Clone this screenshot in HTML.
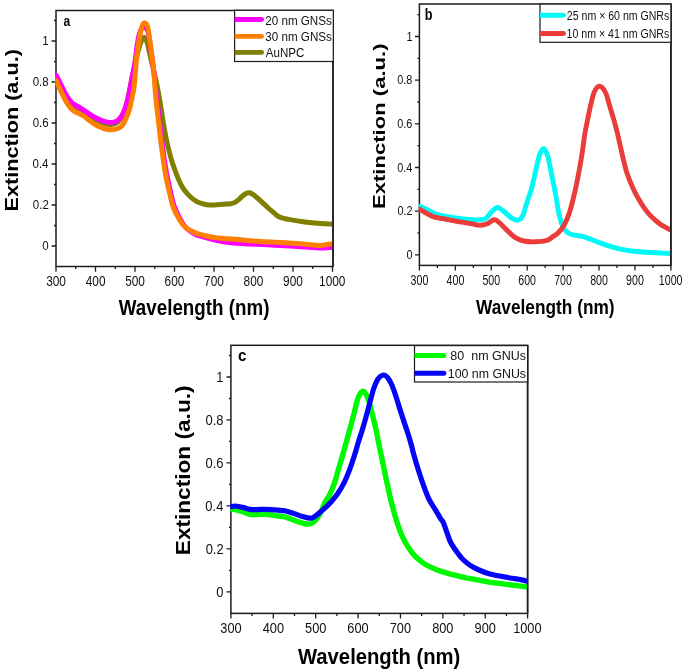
<!DOCTYPE html>
<html><head><meta charset="utf-8"><title>Extinction spectra</title>
<style>html,body{margin:0;padding:0;background:#fff;} svg{display:block;will-change:transform;}</style>
</head><body>
<svg width="685" height="671" viewBox="0 0 685 671">
<rect width="685" height="671" fill="#fff"/>
<g>
<path d="M56.00,266.50V271.70M75.75,266.50V269.10M95.50,266.50V271.70M115.25,266.50V269.10M135.00,266.50V271.70M154.75,266.50V269.10M174.50,266.50V271.70M194.25,266.50V269.10M214.00,266.50V271.70M233.75,266.50V269.10M253.50,266.50V271.70M273.25,266.50V269.10M293.00,266.50V271.70M312.75,266.50V269.10M332.50,266.50V271.70M56.00,246.00H51.60M56.00,225.50H54.00M56.00,205.00H51.60M56.00,184.50H54.00M56.00,164.00H51.60M56.00,143.50H54.00M56.00,123.00H51.60M56.00,102.50H54.00M56.00,82.00H51.60M56.00,61.50H54.00M56.00,41.00H51.60M56.00,20.50H54.00" stroke="#1c1c1c" stroke-width="1.3" fill="none"/>
<rect x="56.00" y="10.50" width="277.00" height="256.00" fill="none" stroke="#1c1c1c" stroke-width="1.5"/>
<path d="M419.40,265.40V270.60M437.36,265.40V268.00M455.33,265.40V270.60M473.29,265.40V268.00M491.26,265.40V270.60M509.22,265.40V268.00M527.19,265.40V270.60M545.15,265.40V268.00M563.12,265.40V270.60M581.09,265.40V268.00M599.05,265.40V270.60M617.01,265.40V268.00M634.98,265.40V270.60M652.94,265.40V268.00M670.91,265.40V270.60M419.40,254.80H415.00M419.40,232.97H417.40M419.40,211.14H415.00M419.40,189.31H417.40M419.40,167.48H415.00M419.40,145.65H417.40M419.40,123.82H415.00M419.40,101.99H417.40M419.40,80.16H415.00M419.40,58.33H417.40M419.40,36.50H415.00M419.40,14.67H417.40" stroke="#1c1c1c" stroke-width="1.3" fill="none"/>
<rect x="419.40" y="4.00" width="251.50" height="261.40" fill="none" stroke="#1c1c1c" stroke-width="1.5"/>
<path d="M230.90,613.40V618.60M252.09,613.40V616.00M273.29,613.40V618.60M294.49,613.40V616.00M315.68,613.40V618.60M336.88,613.40V616.00M358.07,613.40V618.60M379.26,613.40V616.00M400.46,613.40V618.60M421.65,613.40V616.00M442.85,613.40V618.60M464.05,613.40V616.00M485.24,613.40V618.60M506.44,613.40V616.00M527.63,613.40V618.60M230.90,591.80H226.50M230.90,570.32H228.90M230.90,548.84H226.50M230.90,527.36H228.90M230.90,505.88H226.50M230.90,484.40H228.90M230.90,462.92H226.50M230.90,441.44H228.90M230.90,419.96H226.50M230.90,398.48H228.90M230.90,377.00H226.50M230.90,355.52H228.90" stroke="#1c1c1c" stroke-width="1.3" fill="none"/>
<rect x="230.90" y="345.30" width="296.70" height="268.10" fill="none" stroke="#1c1c1c" stroke-width="1.5"/>
<defs>
<clipPath id="clipa"><rect x="55.20" y="10.50" width="277.20" height="256.00"/></clipPath>
<clipPath id="clipb"><rect x="418.60" y="4.00" width="251.70" height="261.40"/></clipPath>
<clipPath id="clipc"><rect x="230.10" y="345.30" width="296.90" height="268.10"/></clipPath>
</defs>
<path clip-path="url(#clipa)" d="M56.30,78.00 C57.12,79.67 59.60,84.75 61.20,88.00 C62.80,91.25 64.12,94.58 65.90,97.50 C67.68,100.42 69.72,103.50 71.90,105.50 C74.08,107.50 76.62,108.08 79.00,109.50 C81.38,110.92 83.42,112.28 86.20,114.00 C88.98,115.72 92.73,118.25 95.70,119.80 C98.67,121.35 101.42,122.53 104.00,123.30 C106.58,124.07 109.00,124.53 111.20,124.40 C113.40,124.27 115.38,123.82 117.20,122.50 C119.02,121.18 120.38,120.25 122.10,116.50 C123.82,112.75 125.85,106.42 127.50,100.00 C129.15,93.58 130.52,85.00 132.00,78.00 C133.48,71.00 134.97,63.83 136.40,58.00 C137.83,52.17 139.32,46.45 140.60,43.00 C141.88,39.55 143.03,37.47 144.10,37.30 C145.17,37.13 146.05,39.22 147.00,42.00 C147.95,44.78 148.88,50.00 149.80,54.00 C150.72,58.00 151.48,61.67 152.50,66.00 C153.52,70.33 155.00,76.00 155.90,80.00 C156.80,84.00 157.27,86.67 157.90,90.00 C158.53,93.33 159.13,96.67 159.70,100.00 C160.27,103.33 160.77,106.67 161.30,110.00 C161.83,113.33 162.35,116.67 162.90,120.00 C163.45,123.33 164.00,126.67 164.60,130.00 C165.20,133.33 165.80,136.67 166.50,140.00 C167.20,143.33 167.97,146.67 168.80,150.00 C169.63,153.33 170.48,156.67 171.50,160.00 C172.52,163.33 173.82,167.00 174.90,170.00 C175.98,173.00 176.87,175.33 178.00,178.00 C179.13,180.67 180.45,183.75 181.70,186.00 C182.95,188.25 184.15,189.80 185.50,191.50 C186.85,193.20 188.27,194.73 189.80,196.20 C191.33,197.67 193.08,199.20 194.70,200.30 C196.32,201.40 197.88,202.15 199.50,202.80 C201.12,203.45 202.78,203.83 204.40,204.20 C206.02,204.57 207.58,204.87 209.20,205.00 C210.82,205.13 211.47,205.15 214.10,205.00 C216.73,204.85 222.30,204.30 225.00,204.10 C227.70,203.90 228.70,204.05 230.30,203.80 C231.90,203.55 233.15,203.35 234.60,202.60 C236.05,201.85 237.53,200.52 239.00,199.30 C240.47,198.08 242.08,196.33 243.40,195.30 C244.72,194.27 245.88,193.53 246.90,193.10 C247.92,192.67 248.48,192.48 249.50,192.70 C250.52,192.92 251.68,193.52 253.00,194.40 C254.32,195.28 255.78,196.60 257.40,198.00 C259.02,199.40 260.80,201.05 262.70,202.80 C264.60,204.55 266.92,206.83 268.80,208.50 C270.68,210.17 272.55,211.57 274.00,212.80 C275.45,214.03 276.33,215.08 277.50,215.90 C278.67,216.72 279.42,217.18 281.00,217.70 C282.58,218.22 283.62,218.37 287.00,219.00 C290.38,219.63 296.20,220.78 301.30,221.50 C306.40,222.22 312.40,222.85 317.60,223.30 C322.80,223.75 330.02,224.05 332.50,224.20" fill="none" stroke="#808000" stroke-width="5.0" stroke-linecap="round" stroke-linejoin="round"/>
<path clip-path="url(#clipa)" d="M56.30,75.50 C57.12,77.08 59.60,81.82 61.20,85.00 C62.80,88.18 64.12,91.62 65.90,94.60 C67.68,97.58 69.72,100.82 71.90,102.90 C74.08,104.98 76.62,105.62 79.00,107.10 C81.38,108.58 83.42,110.02 86.20,111.80 C88.98,113.58 92.73,116.20 95.70,117.80 C98.67,119.40 101.42,120.60 104.00,121.40 C106.58,122.20 109.00,122.70 111.20,122.60 C113.40,122.50 115.57,121.73 117.20,120.80 C118.83,119.87 119.78,118.80 121.00,117.00 C122.22,115.20 123.40,112.83 124.50,110.00 C125.60,107.17 126.72,103.33 127.60,100.00 C128.48,96.67 129.13,93.33 129.80,90.00 C130.47,86.67 130.97,83.33 131.60,80.00 C132.23,76.67 132.98,73.33 133.60,70.00 C134.22,66.67 134.77,63.67 135.30,60.00 C135.83,56.33 136.18,52.17 136.80,48.00 C137.42,43.83 138.17,38.25 139.00,35.00 C139.83,31.75 140.87,29.75 141.80,28.50 C142.73,27.25 143.60,27.08 144.60,27.50 C145.60,27.92 146.95,28.58 147.80,31.00 C148.65,33.42 149.07,38.00 149.70,42.00 C150.33,46.00 151.02,51.00 151.60,55.00 C152.18,59.00 152.58,61.17 153.20,66.00 C153.82,70.83 154.78,79.17 155.30,84.00 C155.82,88.83 155.87,91.02 156.30,95.00 C156.73,98.98 157.28,102.78 157.90,107.90 C158.52,113.02 159.28,119.75 160.00,125.70 C160.72,131.65 161.43,137.65 162.20,143.60 C162.97,149.55 163.82,156.17 164.60,161.40 C165.38,166.63 166.17,171.07 166.90,175.00 C167.63,178.93 168.27,181.67 169.00,185.00 C169.73,188.33 170.50,191.67 171.30,195.00 C172.10,198.33 172.52,201.33 173.80,205.00 C175.08,208.67 177.17,213.45 179.00,217.00 C180.83,220.55 182.88,223.90 184.80,226.30 C186.72,228.70 188.80,230.08 190.50,231.40 C192.20,232.72 193.33,233.43 195.00,234.20 C196.67,234.97 197.32,235.07 200.50,236.00 C203.68,236.93 208.65,238.63 214.10,239.80 C219.55,240.97 223.08,242.10 233.20,243.00 C243.32,243.90 260.93,244.40 274.80,245.20 C288.67,246.00 308.53,247.33 316.40,247.80 C324.27,248.27 319.32,248.10 322.00,248.00 C324.68,247.90 330.75,247.33 332.50,247.20" fill="none" stroke="#FF00FF" stroke-width="5.0" stroke-linecap="round" stroke-linejoin="round"/>
<path clip-path="url(#clipa)" d="M56.30,80.50 C57.12,82.35 59.60,88.17 61.20,91.60 C62.80,95.03 64.12,98.12 65.90,101.10 C67.68,104.08 69.92,107.52 71.90,109.50 C73.88,111.48 75.82,111.92 77.80,113.00 C79.78,114.08 81.80,114.70 83.80,116.00 C85.80,117.30 87.82,119.30 89.80,120.80 C91.78,122.30 93.33,123.72 95.70,125.00 C98.07,126.28 101.42,127.72 104.00,128.50 C106.58,129.28 108.80,129.73 111.20,129.70 C113.60,129.67 116.52,129.08 118.40,128.30 C120.28,127.52 121.23,126.63 122.50,125.00 C123.77,123.37 124.83,121.17 126.00,118.50 C127.17,115.83 128.50,112.42 129.50,109.00 C130.50,105.58 131.30,101.27 132.00,98.00 C132.70,94.73 133.23,92.40 133.70,89.40 C134.17,86.40 134.48,83.23 134.80,80.00 C135.12,76.77 135.33,73.33 135.60,70.00 C135.87,66.67 136.03,63.52 136.40,60.00 C136.77,56.48 137.20,53.17 137.80,48.90 C138.40,44.63 139.23,38.35 140.00,34.40 C140.77,30.45 141.62,27.10 142.40,25.20 C143.18,23.30 143.85,22.78 144.70,23.00 C145.55,23.22 146.65,23.67 147.50,26.50 C148.35,29.33 149.12,35.47 149.80,40.00 C150.48,44.53 151.02,49.20 151.60,53.70 C152.18,58.20 152.82,62.62 153.30,67.00 C153.78,71.38 154.17,75.83 154.50,80.00 C154.83,84.17 154.90,87.35 155.30,92.00 C155.70,96.65 156.28,102.28 156.90,107.90 C157.52,113.52 158.30,119.75 159.00,125.70 C159.70,131.65 160.33,137.55 161.10,143.60 C161.87,149.65 162.85,156.77 163.60,162.00 C164.35,167.23 164.92,171.17 165.60,175.00 C166.28,178.83 166.97,181.67 167.70,185.00 C168.43,188.33 169.20,191.67 170.00,195.00 C170.80,198.33 171.67,202.25 172.50,205.00 C173.33,207.75 174.10,209.52 175.00,211.50 C175.90,213.48 176.93,215.18 177.90,216.90 C178.87,218.62 179.82,220.35 180.80,221.80 C181.78,223.25 182.85,224.53 183.80,225.60 C184.75,226.67 185.50,227.43 186.50,228.20 C187.50,228.97 188.43,229.47 189.80,230.20 C191.17,230.93 193.00,231.92 194.70,232.60 C196.40,233.28 198.38,233.82 200.00,234.30 C201.62,234.78 202.05,234.97 204.40,235.50 C206.75,236.03 210.87,237.00 214.10,237.50 C217.33,238.00 220.32,238.20 223.80,238.50 C227.28,238.80 228.80,238.78 235.00,239.30 C241.20,239.82 252.05,240.98 261.00,241.60 C269.95,242.22 279.47,242.40 288.70,243.00 C297.93,243.60 311.02,244.78 316.40,245.20 C321.78,245.62 318.32,245.77 321.00,245.50 C323.68,245.23 330.58,243.92 332.50,243.60" fill="none" stroke="#FF8000" stroke-width="5.0" stroke-linecap="round" stroke-linejoin="round"/>
<path clip-path="url(#clipb)" d="M419.60,206.20 C420.88,206.80 424.32,208.40 427.30,209.80 C430.28,211.20 434.10,213.47 437.50,214.60 C440.90,215.73 443.95,215.97 447.70,216.60 C451.45,217.23 455.92,217.87 460.00,218.40 C464.08,218.93 468.87,219.60 472.20,219.80 C475.53,220.00 477.73,219.83 480.00,219.60 C482.27,219.37 483.85,219.73 485.80,218.40 C487.75,217.07 489.75,213.42 491.70,211.60 C493.65,209.78 495.55,207.60 497.50,207.50 C499.45,207.40 501.20,209.35 503.40,211.00 C505.60,212.65 508.40,215.87 510.70,217.40 C513.00,218.93 515.48,220.02 517.20,220.20 C518.92,220.38 519.95,219.53 521.00,218.50 C522.05,217.47 522.75,215.92 523.50,214.00 C524.25,212.08 524.68,209.67 525.50,207.00 C526.32,204.33 527.42,200.97 528.40,198.00 C529.38,195.03 530.15,193.90 531.40,189.20 C532.65,184.50 534.53,175.52 535.90,169.80 C537.27,164.08 538.32,158.43 539.60,154.90 C540.88,151.37 542.23,148.35 543.60,148.60 C544.97,148.85 546.48,152.12 547.80,156.40 C549.12,160.68 550.22,168.03 551.50,174.30 C552.78,180.57 554.28,187.55 555.50,194.00 C556.72,200.45 557.65,207.75 558.80,213.00 C559.95,218.25 561.05,222.30 562.40,225.50 C563.75,228.70 564.90,230.58 566.90,232.20 C568.90,233.82 571.92,234.53 574.40,235.20 C576.88,235.87 579.08,235.52 581.80,236.20 C584.52,236.88 587.42,238.10 590.70,239.30 C593.98,240.50 597.92,242.13 601.50,243.40 C605.08,244.67 608.85,245.92 612.20,246.90 C615.55,247.88 618.02,248.58 621.60,249.30 C625.18,250.02 629.45,250.70 633.70,251.20 C637.95,251.70 642.63,252.00 647.10,252.30 C651.57,252.60 656.62,252.80 660.50,253.00 C664.38,253.20 668.75,253.42 670.40,253.50" fill="none" stroke="#00F8F6" stroke-width="4.9" stroke-linecap="round" stroke-linejoin="round"/>
<path clip-path="url(#clipb)" d="M419.60,209.30 C420.88,210.03 424.67,212.35 427.30,213.70 C429.93,215.05 432.33,216.48 435.40,217.40 C438.47,218.32 441.60,218.45 445.70,219.20 C449.80,219.95 455.58,221.12 460.00,221.90 C464.42,222.68 468.87,223.35 472.20,223.90 C475.53,224.45 477.48,225.22 480.00,225.20 C482.52,225.18 484.98,224.72 487.30,223.80 C489.62,222.88 491.95,219.95 493.90,219.70 C495.85,219.45 496.93,220.65 499.00,222.30 C501.07,223.95 503.63,227.08 506.30,229.60 C508.97,232.12 512.08,235.50 515.00,237.40 C517.92,239.30 520.38,240.27 523.80,241.00 C527.22,241.73 531.60,241.92 535.50,241.80 C539.40,241.68 544.45,241.07 547.20,240.30 C549.95,239.53 550.20,238.43 552.00,237.20 C553.80,235.97 556.02,234.85 558.00,232.90 C559.98,230.95 562.05,228.72 563.90,225.50 C565.75,222.28 567.60,217.83 569.10,213.60 C570.60,209.37 571.65,205.08 572.90,200.10 C574.15,195.12 575.37,189.65 576.60,183.70 C577.83,177.75 579.30,170.02 580.30,164.40 C581.30,158.78 581.85,155.03 582.60,150.00 C583.35,144.97 583.97,139.25 584.80,134.20 C585.63,129.15 586.67,124.35 587.60,119.70 C588.53,115.05 589.28,110.92 590.40,106.30 C591.52,101.68 592.80,95.35 594.30,92.00 C595.80,88.65 597.57,86.20 599.40,86.20 C601.23,86.20 603.57,88.65 605.30,92.00 C607.03,95.35 608.38,101.68 609.80,106.30 C611.22,110.92 612.50,115.08 613.80,119.70 C615.10,124.32 616.50,129.53 617.60,134.00 C618.70,138.47 619.45,142.32 620.40,146.50 C621.35,150.68 622.20,154.63 623.30,159.10 C624.40,163.57 625.55,168.82 627.00,173.30 C628.45,177.78 630.23,182.00 632.00,186.00 C633.77,190.00 635.48,193.53 637.60,197.30 C639.72,201.07 642.33,205.30 644.70,208.60 C647.07,211.90 649.20,214.50 651.80,217.10 C654.40,219.70 657.20,222.07 660.30,224.20 C663.40,226.33 668.72,228.95 670.40,229.90" fill="none" stroke="#EB3C3C" stroke-width="4.9" stroke-linecap="round" stroke-linejoin="round"/>
<path clip-path="url(#clipc)" d="M231.30,509.00 C231.97,509.08 233.42,509.08 235.30,509.50 C237.18,509.92 240.17,510.70 242.60,511.50 C245.03,512.30 247.47,513.80 249.90,514.30 C252.33,514.80 254.77,514.52 257.20,514.50 C259.63,514.48 262.07,514.12 264.50,514.20 C266.93,514.28 269.55,514.70 271.80,515.00 C274.05,515.30 275.83,515.68 278.00,516.00 C280.17,516.32 282.22,516.23 284.80,516.90 C287.38,517.57 290.58,518.98 293.50,520.00 C296.42,521.02 300.12,522.33 302.30,523.00 C304.48,523.67 305.15,523.92 306.60,524.00 C308.05,524.08 309.53,524.10 311.00,523.50 C312.47,522.90 313.93,521.93 315.40,520.40 C316.87,518.87 318.20,517.28 319.80,514.30 C321.40,511.32 323.33,505.80 325.00,502.50 C326.67,499.20 328.22,497.77 329.80,494.50 C331.38,491.23 333.02,487.22 334.50,482.90 C335.98,478.58 337.30,473.37 338.70,468.60 C340.10,463.83 341.58,458.90 342.90,454.30 C344.22,449.70 345.40,445.35 346.60,441.00 C347.80,436.65 348.87,432.77 350.10,428.20 C351.33,423.63 352.80,418.27 354.00,413.60 C355.20,408.93 356.28,403.50 357.30,400.20 C358.32,396.90 359.07,395.28 360.10,393.80 C361.13,392.32 362.38,390.98 363.50,391.30 C364.62,391.62 365.78,393.65 366.80,395.70 C367.82,397.75 368.67,400.43 369.60,403.60 C370.53,406.77 371.47,410.98 372.40,414.70 C373.33,418.42 374.52,423.02 375.20,425.90 C375.88,428.78 375.88,428.93 376.50,432.00 C377.12,435.07 378.00,439.87 378.90,444.30 C379.80,448.73 380.90,453.83 381.90,458.60 C382.90,463.37 383.90,468.15 384.90,472.90 C385.90,477.65 386.92,482.58 387.90,487.10 C388.88,491.62 389.78,495.85 390.80,500.00 C391.82,504.15 392.78,507.72 394.00,512.00 C395.22,516.28 396.68,521.55 398.10,525.70 C399.52,529.85 400.83,533.35 402.50,536.90 C404.17,540.45 406.05,543.83 408.10,547.00 C410.15,550.17 412.37,553.30 414.80,555.90 C417.23,558.50 420.08,560.73 422.70,562.60 C425.32,564.47 427.42,565.63 430.50,567.10 C433.58,568.57 437.55,570.17 441.20,571.40 C444.85,572.63 448.27,573.42 452.40,574.50 C456.53,575.58 461.92,577.02 466.00,577.90 C470.08,578.78 473.25,579.15 476.90,579.80 C480.55,580.45 484.25,581.20 487.90,581.80 C491.55,582.40 495.15,582.90 498.80,583.40 C502.45,583.90 506.15,584.35 509.80,584.80 C513.45,585.25 517.78,585.73 520.70,586.10 C523.62,586.47 526.20,586.85 527.30,587.00" fill="none" stroke="#00F800" stroke-width="5.4" stroke-linecap="round" stroke-linejoin="round"/>
<path clip-path="url(#clipc)" d="M231.30,506.70 C231.97,506.62 233.42,506.08 235.30,506.20 C237.18,506.32 240.17,506.87 242.60,507.40 C245.03,507.93 247.47,509.03 249.90,509.40 C252.33,509.77 254.77,509.62 257.20,509.60 C259.63,509.58 262.07,509.30 264.50,509.30 C266.93,509.30 269.55,509.45 271.80,509.60 C274.05,509.75 275.83,510.00 278.00,510.20 C280.17,510.40 282.22,510.27 284.80,510.80 C287.38,511.33 290.58,512.45 293.50,513.40 C296.42,514.35 299.67,515.70 302.30,516.50 C304.93,517.30 307.40,518.07 309.30,518.20 C311.20,518.33 311.95,518.25 313.70,517.30 C315.45,516.35 317.62,514.32 319.80,512.50 C321.98,510.68 325.10,507.98 326.80,506.40 C328.50,504.82 328.32,504.93 330.00,503.00 C331.68,501.07 334.57,498.15 336.90,494.80 C339.23,491.45 341.82,487.27 344.00,482.90 C346.18,478.53 348.20,473.37 350.00,468.60 C351.80,463.83 353.40,458.73 354.80,454.30 C356.20,449.87 357.23,445.80 358.40,442.00 C359.57,438.20 360.58,435.48 361.80,431.50 C363.02,427.52 364.40,422.75 365.70,418.10 C367.00,413.45 368.28,408.45 369.60,403.60 C370.92,398.75 372.20,393.12 373.60,389.00 C375.00,384.88 376.33,381.23 378.00,378.90 C379.67,376.57 381.92,375.12 383.60,375.00 C385.28,374.88 386.78,376.65 388.10,378.20 C389.42,379.75 390.33,381.70 391.50,384.30 C392.67,386.90 394.00,390.63 395.10,393.80 C396.20,396.97 397.10,400.12 398.10,403.30 C399.10,406.48 400.02,409.52 401.10,412.90 C402.18,416.28 403.42,420.03 404.60,423.60 C405.78,427.17 407.08,430.73 408.20,434.30 C409.32,437.87 410.38,441.67 411.30,445.00 C412.22,448.33 412.60,450.37 413.70,454.30 C414.80,458.23 416.42,463.83 417.90,468.60 C419.38,473.37 420.92,478.15 422.60,482.90 C424.28,487.65 426.48,493.58 428.00,497.10 C429.52,500.62 430.43,501.83 431.70,504.00 C432.97,506.17 434.20,507.78 435.60,510.10 C437.00,512.42 438.88,515.95 440.10,517.90 C441.32,519.85 442.17,520.50 442.90,521.80 C443.63,523.10 443.77,523.73 444.50,525.70 C445.23,527.67 446.27,530.80 447.30,533.60 C448.33,536.40 449.22,539.60 450.70,542.50 C452.18,545.40 454.23,548.25 456.20,551.00 C458.17,553.75 460.17,556.60 462.50,559.00 C464.83,561.40 467.45,563.57 470.20,565.40 C472.95,567.23 475.70,568.55 479.00,570.00 C482.30,571.45 486.33,573.05 490.00,574.10 C493.67,575.15 497.33,575.60 501.00,576.30 C504.67,577.00 508.72,577.75 512.00,578.30 C515.28,578.85 518.15,579.12 520.70,579.60 C523.25,580.08 526.20,580.93 527.30,581.20" fill="none" stroke="#0404F8" stroke-width="5.2" stroke-linecap="round" stroke-linejoin="round"/>
<path d="M333.00,10.50V266.50" stroke="#1c1c1c" stroke-width="1.5"/>
<path d="M670.90,4.00V265.40" stroke="#1c1c1c" stroke-width="1.5"/>
<path d="M527.60,345.30V613.40" stroke="#1c1c1c" stroke-width="1.5"/>
<rect x="234.60" y="10.30" width="98.70" height="51.20" fill="#fff" stroke="#1c1c1c" stroke-width="1.2"/>
<clipPath id="lg0"><rect x="234.60" y="10.30" width="98.70" height="51.20"/></clipPath>
<path clip-path="url(#lg0)" d="M230.60,19.50H261.60" stroke="#FF00FF" stroke-width="4.8" stroke-linecap="round"/>
<path clip-path="url(#lg0)" d="M230.60,36.40H261.60" stroke="#FF8000" stroke-width="4.8" stroke-linecap="round"/>
<path clip-path="url(#lg0)" d="M230.60,52.40H261.60" stroke="#808000" stroke-width="4.8" stroke-linecap="round"/>
<rect x="540.00" y="4.10" width="130.90" height="38.20" fill="#fff" stroke="#1c1c1c" stroke-width="1.2"/>
<clipPath id="lg1"><rect x="540.00" y="4.10" width="130.90" height="38.20"/></clipPath>
<path clip-path="url(#lg1)" d="M536.00,15.20H563.55" stroke="#00F8F6" stroke-width="4.9" stroke-linecap="round"/>
<path clip-path="url(#lg1)" d="M536.00,33.50H563.55" stroke="#EB3C3C" stroke-width="4.9" stroke-linecap="round"/>
<rect x="414.50" y="345.60" width="113.10" height="36.40" fill="#fff" stroke="#1c1c1c" stroke-width="1.2"/>
<clipPath id="lg2"><rect x="414.50" y="345.60" width="113.10" height="36.40"/></clipPath>
<path clip-path="url(#lg2)" d="M410.50,355.60H443.80" stroke="#00F800" stroke-width="5.0" stroke-linecap="round"/>
<path clip-path="url(#lg2)" d="M410.50,373.20H443.80" stroke="#0404F8" stroke-width="5.0" stroke-linecap="round"/>
<text transform="translate(42.30,249.70) scale(0.9423,1)" font-family="'Liberation Sans', sans-serif" font-weight="normal" font-size="12.21" fill="#111" style="white-space:pre" xml:space="preserve">0</text>
<text transform="translate(32.81,208.70) scale(0.9423,1)" font-family="'Liberation Sans', sans-serif" font-weight="normal" font-size="12.21" fill="#111" style="white-space:pre" xml:space="preserve">0.2</text>
<text transform="translate(32.52,167.70) scale(0.9423,1)" font-family="'Liberation Sans', sans-serif" font-weight="normal" font-size="12.21" fill="#111" style="white-space:pre" xml:space="preserve">0.4</text>
<text transform="translate(32.67,126.70) scale(0.9423,1)" font-family="'Liberation Sans', sans-serif" font-weight="normal" font-size="12.21" fill="#111" style="white-space:pre" xml:space="preserve">0.6</text>
<text transform="translate(32.67,85.70) scale(0.9423,1)" font-family="'Liberation Sans', sans-serif" font-weight="normal" font-size="12.21" fill="#111" style="white-space:pre" xml:space="preserve">0.8</text>
<text transform="translate(42.30,44.70) scale(0.9423,1)" font-family="'Liberation Sans', sans-serif" font-weight="normal" font-size="12.21" fill="#111" style="white-space:pre" xml:space="preserve">1</text>
<text transform="translate(46.16,285.60) scale(0.8576,1)" font-family="'Liberation Sans', sans-serif" font-weight="normal" font-size="13.808" fill="#111" style="white-space:pre" xml:space="preserve">300</text>
<text transform="translate(85.73,285.60) scale(0.8576,1)" font-family="'Liberation Sans', sans-serif" font-weight="normal" font-size="13.808" fill="#111" style="white-space:pre" xml:space="preserve">400</text>
<text transform="translate(125.16,285.60) scale(0.8576,1)" font-family="'Liberation Sans', sans-serif" font-weight="normal" font-size="13.808" fill="#111" style="white-space:pre" xml:space="preserve">500</text>
<text transform="translate(164.58,285.60) scale(0.8576,1)" font-family="'Liberation Sans', sans-serif" font-weight="normal" font-size="13.808" fill="#111" style="white-space:pre" xml:space="preserve">600</text>
<text transform="translate(204.08,285.60) scale(0.8576,1)" font-family="'Liberation Sans', sans-serif" font-weight="normal" font-size="13.808" fill="#111" style="white-space:pre" xml:space="preserve">700</text>
<text transform="translate(243.58,285.60) scale(0.8576,1)" font-family="'Liberation Sans', sans-serif" font-weight="normal" font-size="13.808" fill="#111" style="white-space:pre" xml:space="preserve">800</text>
<text transform="translate(283.08,285.60) scale(0.8576,1)" font-family="'Liberation Sans', sans-serif" font-weight="normal" font-size="13.808" fill="#111" style="white-space:pre" xml:space="preserve">900</text>
<text transform="translate(319.10,285.60) scale(0.8576,1)" font-family="'Liberation Sans', sans-serif" font-weight="normal" font-size="13.808" fill="#111" style="white-space:pre" xml:space="preserve">1000</text>
<text transform="translate(406.42,259.10) scale(0.8329,1)" font-family="'Liberation Sans', sans-serif" font-weight="normal" font-size="13.082" fill="#111" style="white-space:pre" xml:space="preserve">0</text>
<text transform="translate(397.43,215.44) scale(0.8329,1)" font-family="'Liberation Sans', sans-serif" font-weight="normal" font-size="13.082" fill="#111" style="white-space:pre" xml:space="preserve">0.2</text>
<text transform="translate(397.16,171.78) scale(0.8329,1)" font-family="'Liberation Sans', sans-serif" font-weight="normal" font-size="13.082" fill="#111" style="white-space:pre" xml:space="preserve">0.4</text>
<text transform="translate(397.29,128.12) scale(0.8329,1)" font-family="'Liberation Sans', sans-serif" font-weight="normal" font-size="13.082" fill="#111" style="white-space:pre" xml:space="preserve">0.6</text>
<text transform="translate(397.29,84.46) scale(0.8329,1)" font-family="'Liberation Sans', sans-serif" font-weight="normal" font-size="13.082" fill="#111" style="white-space:pre" xml:space="preserve">0.8</text>
<text transform="translate(406.42,40.80) scale(0.8329,1)" font-family="'Liberation Sans', sans-serif" font-weight="normal" font-size="13.082" fill="#111" style="white-space:pre" xml:space="preserve">1</text>
<text transform="translate(410.55,284.70) scale(0.7710,1)" font-family="'Liberation Sans', sans-serif" font-weight="normal" font-size="13.808" fill="#111" style="white-space:pre" xml:space="preserve">300</text>
<text transform="translate(446.55,284.70) scale(0.7710,1)" font-family="'Liberation Sans', sans-serif" font-weight="normal" font-size="13.808" fill="#111" style="white-space:pre" xml:space="preserve">400</text>
<text transform="translate(482.41,284.70) scale(0.7710,1)" font-family="'Liberation Sans', sans-serif" font-weight="normal" font-size="13.808" fill="#111" style="white-space:pre" xml:space="preserve">500</text>
<text transform="translate(518.27,284.70) scale(0.7710,1)" font-family="'Liberation Sans', sans-serif" font-weight="normal" font-size="13.808" fill="#111" style="white-space:pre" xml:space="preserve">600</text>
<text transform="translate(554.20,284.70) scale(0.7710,1)" font-family="'Liberation Sans', sans-serif" font-weight="normal" font-size="13.808" fill="#111" style="white-space:pre" xml:space="preserve">700</text>
<text transform="translate(590.13,284.70) scale(0.7710,1)" font-family="'Liberation Sans', sans-serif" font-weight="normal" font-size="13.808" fill="#111" style="white-space:pre" xml:space="preserve">800</text>
<text transform="translate(626.06,284.70) scale(0.7710,1)" font-family="'Liberation Sans', sans-serif" font-weight="normal" font-size="13.808" fill="#111" style="white-space:pre" xml:space="preserve">900</text>
<text transform="translate(658.87,284.70) scale(0.7710,1)" font-family="'Liberation Sans', sans-serif" font-weight="normal" font-size="13.808" fill="#111" style="white-space:pre" xml:space="preserve">1000</text>
<text transform="translate(216.36,596.60) scale(0.8911,1)" font-family="'Liberation Sans', sans-serif" font-weight="normal" font-size="14.535" fill="#111" style="white-space:pre" xml:space="preserve">0</text>
<text transform="translate(205.68,553.64) scale(0.8911,1)" font-family="'Liberation Sans', sans-serif" font-weight="normal" font-size="14.535" fill="#111" style="white-space:pre" xml:space="preserve">0.2</text>
<text transform="translate(205.35,510.68) scale(0.8911,1)" font-family="'Liberation Sans', sans-serif" font-weight="normal" font-size="14.535" fill="#111" style="white-space:pre" xml:space="preserve">0.4</text>
<text transform="translate(205.51,467.72) scale(0.8911,1)" font-family="'Liberation Sans', sans-serif" font-weight="normal" font-size="14.535" fill="#111" style="white-space:pre" xml:space="preserve">0.6</text>
<text transform="translate(205.51,424.76) scale(0.8911,1)" font-family="'Liberation Sans', sans-serif" font-weight="normal" font-size="14.535" fill="#111" style="white-space:pre" xml:space="preserve">0.8</text>
<text transform="translate(216.36,381.80) scale(0.8911,1)" font-family="'Liberation Sans', sans-serif" font-weight="normal" font-size="14.535" fill="#111" style="white-space:pre" xml:space="preserve">1</text>
<text transform="translate(220.27,633.20) scale(0.9261,1)" font-family="'Liberation Sans', sans-serif" font-weight="normal" font-size="13.808" fill="#111" style="white-space:pre" xml:space="preserve">300</text>
<text transform="translate(262.74,633.20) scale(0.9261,1)" font-family="'Liberation Sans', sans-serif" font-weight="normal" font-size="13.808" fill="#111" style="white-space:pre" xml:space="preserve">400</text>
<text transform="translate(305.05,633.20) scale(0.9261,1)" font-family="'Liberation Sans', sans-serif" font-weight="normal" font-size="13.808" fill="#111" style="white-space:pre" xml:space="preserve">500</text>
<text transform="translate(347.36,633.20) scale(0.9261,1)" font-family="'Liberation Sans', sans-serif" font-weight="normal" font-size="13.808" fill="#111" style="white-space:pre" xml:space="preserve">600</text>
<text transform="translate(389.75,633.20) scale(0.9261,1)" font-family="'Liberation Sans', sans-serif" font-weight="normal" font-size="13.808" fill="#111" style="white-space:pre" xml:space="preserve">700</text>
<text transform="translate(432.14,633.20) scale(0.9261,1)" font-family="'Liberation Sans', sans-serif" font-weight="normal" font-size="13.808" fill="#111" style="white-space:pre" xml:space="preserve">800</text>
<text transform="translate(474.53,633.20) scale(0.9261,1)" font-family="'Liberation Sans', sans-serif" font-weight="normal" font-size="13.808" fill="#111" style="white-space:pre" xml:space="preserve">900</text>
<text transform="translate(513.16,633.20) scale(0.9261,1)" font-family="'Liberation Sans', sans-serif" font-weight="normal" font-size="13.808" fill="#111" style="white-space:pre" xml:space="preserve">1000</text>
<text transform="translate(118.80,314.87) scale(0.8807,1)" font-family="'Liberation Sans', sans-serif" font-weight="bold" font-size="21.333" fill="#000" style="white-space:pre" xml:space="preserve">Wavelength (nm)</text>
<text transform="translate(476.10,314.28) scale(0.8302,1)" font-family="'Liberation Sans', sans-serif" font-weight="bold" font-size="20.8" fill="#000" style="white-space:pre" xml:space="preserve">Wavelength (nm)</text>
<text transform="translate(298.00,663.61) scale(0.9175,1)" font-family="'Liberation Sans', sans-serif" font-weight="bold" font-size="22.08" fill="#000" style="white-space:pre" xml:space="preserve">Wavelength (nm)</text>
<text transform="translate(17.90,211.55) rotate(-90) scale(1.1812,1)" font-family="'Liberation Sans', sans-serif" font-weight="bold" font-size="18.347" fill="#000" style="white-space:pre" xml:space="preserve">Extinction (a.u.)</text>
<text transform="translate(384.91,208.98) rotate(-90) scale(1.2706,1)" font-family="'Liberation Sans', sans-serif" font-weight="bold" font-size="17.387" fill="#000" style="white-space:pre" xml:space="preserve">Extinction (a.u.)</text>
<text transform="translate(190.24,555.22) rotate(-90) scale(1.1300,1)" font-family="'Liberation Sans', sans-serif" font-weight="bold" font-size="20.053" fill="#000" style="white-space:pre" xml:space="preserve">Extinction (a.u.)</text>
<text transform="translate(63.40,25.71) scale(0.8111,1)" font-family="'Liberation Sans', sans-serif" font-weight="bold" font-size="14.909" fill="#000" style="white-space:pre" xml:space="preserve">a</text>
<text transform="translate(424.71,19.90) scale(0.8066,1)" font-family="'Liberation Sans', sans-serif" font-weight="bold" font-size="15.724" fill="#000" style="white-space:pre" xml:space="preserve">b</text>
<text transform="translate(238.03,360.80) scale(0.9708,1)" font-family="'Liberation Sans', sans-serif" font-weight="bold" font-size="15.636" fill="#000" style="white-space:pre" xml:space="preserve">c</text>
<text transform="translate(265.22,24.80) scale(0.8811,1)" font-family="'Liberation Sans', sans-serif" font-weight="normal" font-size="13.227" fill="#111" style="white-space:pre" xml:space="preserve">20 nm GNSs</text>
<text transform="translate(265.36,41.00) scale(0.8989,1)" font-family="'Liberation Sans', sans-serif" font-weight="normal" font-size="12.936" fill="#111" style="white-space:pre" xml:space="preserve">30 nm GNSs</text>
<text transform="translate(265.80,57.00) scale(0.8836,1)" font-family="'Liberation Sans', sans-serif" font-weight="normal" font-size="13.082" fill="#111" style="white-space:pre" xml:space="preserve">AuNPC</text>
<text transform="translate(566.87,19.90) scale(0.8263,1)" font-family="'Liberation Sans', sans-serif" font-weight="normal" font-size="12.791" fill="#111" style="white-space:pre" xml:space="preserve">25 nm × 60 nm GNRs</text>
<text transform="translate(566.61,38.00) scale(0.8101,1)" font-family="'Liberation Sans', sans-serif" font-weight="normal" font-size="13.082" fill="#111" style="white-space:pre" xml:space="preserve">10 nm × 41 nm GNRs</text>
<text transform="translate(450.37,360.40) scale(0.9887,1)" font-family="'Liberation Sans', sans-serif" font-weight="normal" font-size="12.646" fill="#111" style="white-space:pre" xml:space="preserve">80  nm GNUs</text>
<text transform="translate(447.77,377.60) scale(0.9562,1)" font-family="'Liberation Sans', sans-serif" font-weight="normal" font-size="12.936" fill="#111" style="white-space:pre" xml:space="preserve">100 nm GNUs</text>
</g>
</svg>
</body></html>
